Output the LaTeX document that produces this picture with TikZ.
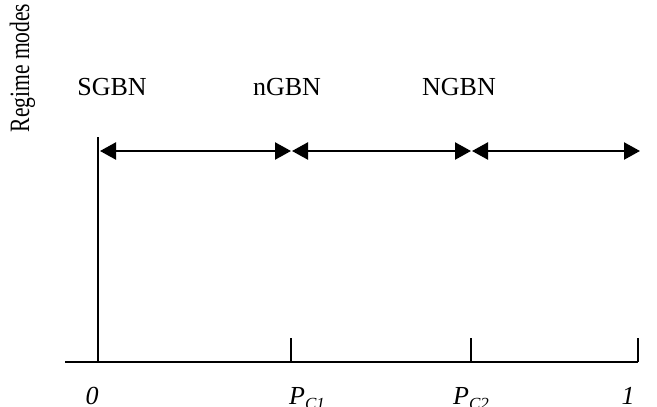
\documentclass[tikz,border=0pt]{standalone}
\usepackage{fontspec}
\setmainfont{Liberation Serif}
\usetikzlibrary{arrows.meta}
\begin{document}
\begin{tikzpicture}[x=1pt,y=-1pt,line width=2.4pt,
  tip/.tip={Triangle[length=16pt,width=17pt]},
  span/.style={tip-tip},
  lbl/.style={font=\fontsize{26}{30}\selectfont,inner sep=0pt,anchor=base},
  tick/.style={line cap=butt}]
\useasboundingbox (0,0) rectangle (657,407);

% axis points
\coordinate (left) at (65,362);
\coordinate (o)   at (98,362);
\coordinate (p1)  at (291,362);
\coordinate (p2)  at (471,362);
\coordinate (one) at (638,362);
% tick tops
\coordinate (ot)  at (98,137);
\coordinate (p1t) at (291,338);
\coordinate (p2t) at (471,338);
\coordinate (onet) at (638,338);
% span ends
\coordinate (a0) at (100,151);
\coordinate (a1) at (291,151);
\coordinate (b1) at (292,151);
\coordinate (a2) at (471,151);
\coordinate (b2) at (472,151);
\coordinate (a3) at (640,151);

% axes and ticks
\draw (left) -- (one);
\draw[tick] (o) -- (ot);
\draw[tick] (p1) -- (p1t);
\draw[tick] (p2) -- (p2t);
\draw[tick] (one) -- (onet);

% regime spans
\draw[span] (a0) -- (a1);
\draw[span] (b1) -- (a2);
\draw[span] (b2) -- (a3);

% regime names
\node[lbl] (sgbn) at (112,95) {SGBN};
\node[lbl] (ngbnlow) at (287,95) {nGBN};
\node[lbl] (ngbn) at (459,95) {NGBN};

% axis values
\node[lbl] (v0) at (92,404) {\itshape 0};
\node[lbl,anchor=base west] (vp1) at (288,404) {\itshape P\raisebox{-0.22em}{\fontsize{17}{20}\selectfont C1}};
\node[lbl,anchor=base west] (vp2) at (452,404) {\itshape P\raisebox{-0.22em}{\fontsize{17}{20}\selectfont C2}};
\node[lbl] (v1) at (628,404) {\itshape 1};

% vertical axis title
\node[lbl,rotate=90,font=\fontsize{28}{32}\selectfont] (title) at (29,68) {\scalebox{0.77}[1]{Regime modes}};
\end{tikzpicture}
\end{document}
